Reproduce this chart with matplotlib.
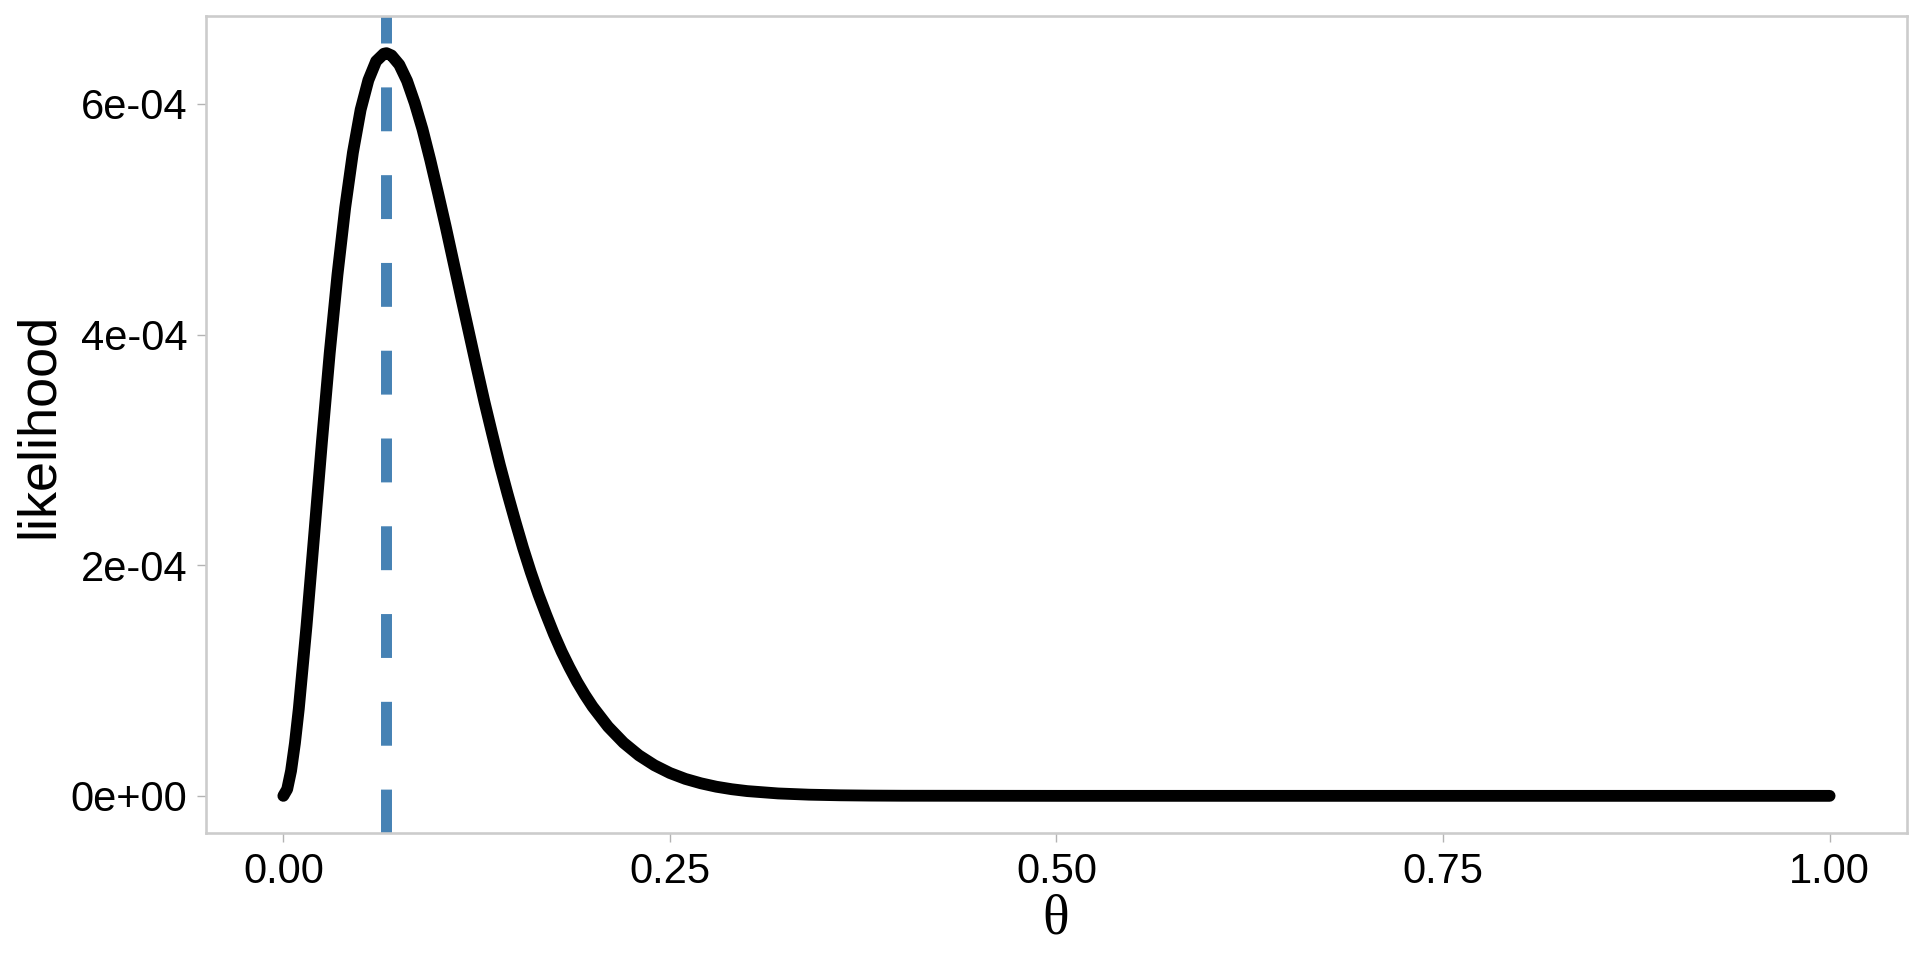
import matplotlib
matplotlib.use("Agg")
import matplotlib.pyplot as plt

# likelihood curve, values (y in units of 1e-4)
theta = [0.0, 0.0025, 0.005, 0.0075, 0.01, 0.015, 0.02, 0.025, 0.03, 0.035, 0.04,
         0.045, 0.05, 0.055, 0.06, 0.065, 0.0667, 0.07, 0.075, 0.08, 0.085, 0.09,
         0.095, 0.10, 0.105, 0.11, 0.115, 0.12, 0.125, 0.13, 0.135, 0.14, 0.145,
         0.15, 0.155, 0.16, 0.165, 0.17, 0.175, 0.18, 0.185, 0.19, 0.195, 0.20,
         0.21, 0.22, 0.23, 0.24, 0.25, 0.26, 0.27, 0.28, 0.29, 0.30, 0.32, 0.34,
         0.36, 0.38, 0.40, 0.50, 0.75, 1.0]
lik_e4 = [0.0, 0.058, 0.217, 0.456, 0.755, 1.474, 2.27, 3.076, 3.84, 4.517, 5.10,
          5.578, 5.95, 6.206, 6.37, 6.435, 6.44, 6.42, 6.34, 6.20, 6.007, 5.78,
          5.515, 5.23, 4.937, 4.63, 4.323, 4.02, 3.717, 3.42, 3.142, 2.87, 2.619,
          2.38, 2.151, 1.94, 1.746, 1.57, 1.402, 1.25, 1.114, 0.988, 0.876, 0.774,
          0.600, 0.461, 0.351, 0.265, 0.198, 0.147, 0.109, 0.0793, 0.0575, 0.0413,
          0.0209, 0.0102, 0.00485, 0.00222, 0.00098, 0.0, 0.0, 0.0]
mle = 0.0667

x_ticks = [0.0, 0.25, 0.5, 0.75, 1.0]
x_labels = ["0.00", "0.25", "0.50", "0.75", "1.00"]
y_ticks = [0.0, 2e-4, 4e-4, 6e-4]
y_labels = ["0e+00", "2e-04", "4e-04", "6e-04"]

lik = [v * 1e-4 for v in lik_e4]

plt.rcParams['font.family'] = ['Liberation Sans', 'DejaVu Sans']
fig = plt.figure(figsize=(19.2, 9.6), dpi=100)
ax = fig.add_axes([0.1073, 0.1323, 0.8859, 0.851])

ax.plot(theta, lik, color="black", linewidth=8.5, solid_capstyle="round",
        solid_joinstyle="round", zorder=3)
ax.axvline(mle, color="#4682B4", linewidth=7.9, linestyle=(0, (4, 4)),
           dash_capstyle="butt", zorder=2)

ymax = max(lik)
ax.set_xlim(-0.05, 1.05)
ax.set_ylim(-0.05 * ymax, 1.05 * ymax)
ax.set_xticks(x_ticks, x_labels)
ax.set_yticks(y_ticks, y_labels)
ax.tick_params(axis="both", length=6.5, width=1, color="#b3b3b3",
               labelsize=30, labelcolor="black", pad=7)

for s in ax.spines.values():
    s.set_color("#cccccc")
    s.set_linewidth(1.9)

fig.text(0.0203, 0.557, "likelihood", rotation=90, ha="center", va="center",
         fontsize=39)
fig.text(0.55, 0.042, "θ", ha="center", va="center", fontsize=40,
         family=["Liberation Serif", "DejaVu Serif"])

fig.savefig("out.png", dpi=100, facecolor="white")
